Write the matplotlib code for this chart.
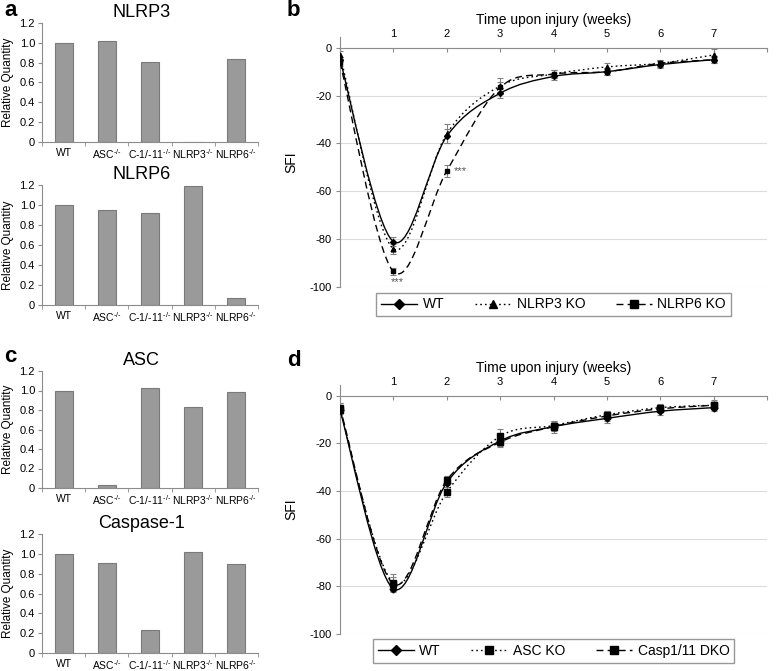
import matplotlib
matplotlib.use('Agg')
import matplotlib.pyplot as plt
from matplotlib.path import Path
from matplotlib.patches import PathPatch
from matplotlib.lines import Line2D
import numpy as np

plt.rcParams['font.family'] = ['Liberation Sans', 'DejaVu Sans']
plt.rcParams['mathtext.fontset'] = 'custom'
plt.rcParams['mathtext.rm'] = 'Liberation Sans'
plt.rcParams['mathtext.it'] = 'Liberation Sans'

# ---------------- data ----------------
genotypes = ['WT', 'ASC$^{\\text{-/-}}$', 'C-1/-11$^{\\text{-/-}}$', 'NLRP3$^{\\text{-/-}}$', 'NLRP6$^{\\text{-/-}}$']
nlrp3_q = [1.00, 1.02, 0.81, 0.0, 0.84]
nlrp6_q = [1.00, 0.95, 0.92, 1.19, 0.07]
asc_q = [1.00, 0.03, 1.03, 0.83, 0.98]
casp1_q = [1.00, 0.91, 0.23, 1.02, 0.90]
bar_yticks = [0, 0.2, 0.4, 0.6, 0.8, 1.0, 1.2]
bar_yticklabels = ['0', '0.2', '0.4', '0.6', '0.8', '1.0', '1.2']

weeks = [0, 1, 2, 3, 4, 5, 6, 7]
week_ticks = [0, 1, 2, 3, 4, 5, 6, 7, 8]
week_labels = ['', '1', '2', '3', '4', '5', '6', '7', '']
sfi_ticks = [0, -20, -40, -60, -80, -100]

b_wt = [-5, -81, -37, -19, -12, -10, -7, -5]
b_wt_err = [1.0, 2.0, 3.0, 2.0, 1.5, 1.5, 1.5, 1.5]
b_nlrp3 = [-3, -84, -36, -16, -11, -8, -6.5, -3]
b_nlrp3_err = [1.5, 2.0, 4.0, 3.5, 1.5, 1.5, 1.5, 2.5]
b_nlrp6 = [-6, -93.5, -51.5, -16.5, -11, -10, -6.5, -5]
b_nlrp6_err = [1.5, 1.5, 2.5, 2.0, 1.5, 1.5, 1.5, 1.5]

d_wt = [-6, -81, -36.5, -19, -13, -9.5, -6.5, -5]
d_wt_err = [1.5, 1.5, 2.5, 2.0, 2.5, 2.0, 1.5, 1.5]
d_asc = [-6, -78.5, -40.5, -17, -12.5, -8, -5, -4]
d_asc_err = [3.0, 3.5, 2.0, 3.0, 2.0, 1.5, 1.5, 2.0]
d_casp = [-5, -79, -35.5, -19.5, -13, -8.5, -5.5, -4]
d_casp_err = [2.0, 3.0, 2.0, 2.0, 2.0, 2.0, 1.5, 1.5]

BAR_COLOR = '#9a9a9a'
BAR_EDGE = '#7a7a7a'
AX_COLOR = '#8c8c8c'

W, H = 778, 671
fig = plt.figure(figsize=(W / 100, H / 100), dpi=100)


def px_axes(left, top, right, bottom):
    return fig.add_axes([left / W, 1 - bottom / H, (right - left) / W, (bottom - top) / H])


def bar_panel(rect, values, title):
    ax = px_axes(*rect)
    x = np.arange(len(genotypes))
    ax.bar(x, values, width=0.42, color=BAR_COLOR, edgecolor=BAR_EDGE, linewidth=0.8)
    ax.set_xlim(-0.5, len(genotypes) - 0.5)
    ax.set_ylim(0, 1.2)
    ax.set_yticks(bar_yticks)
    ax.set_yticklabels(bar_yticklabels, fontsize=8)
    ax.set_xticks(x)
    ax.set_xticklabels(genotypes, fontsize=7.5)
    ax.set_xticks(np.arange(len(genotypes) + 1) - 0.5, minor=True)
    ax.tick_params(axis='x', which='major', length=0, pad=4)
    ax.tick_params(axis='x', which='minor', length=3, color=AX_COLOR, direction='out')
    ax.tick_params(axis='y', length=3, color=AX_COLOR, pad=2)
    for s in ['top', 'right']:
        ax.spines[s].set_visible(False)
    for s in ['left', 'bottom']:
        ax.spines[s].set_color(AX_COLOR)
        ax.spines[s].set_linewidth(0.8)
    ax.set_ylabel('Relative Quantity', fontsize=8.5, labelpad=4)
    ax.set_title(title, fontsize=13, pad=4, x=0.46)
    return ax


bar_panel((42, 23, 258, 142), nlrp3_q, 'NLRP3')
bar_panel((42, 185, 258, 305), nlrp6_q, 'NLRP6')
bar_panel((42, 371, 258, 488), asc_q, 'ASC')
bar_panel((42, 534, 258, 653), casp1_q, 'Caspase-1')


def smooth_path(x, y):
    pts = np.column_stack([x, y]).astype(float)
    n = len(pts)
    verts = [pts[0]]
    codes = [Path.MOVETO]
    for i in range(n - 1):
        p0 = pts[max(i - 1, 0)]
        p1 = pts[i]
        p2 = pts[i + 1]
        p3 = pts[min(i + 2, n - 1)]
        c1 = p1 + (p2 - p0) / 6.0
        c2 = p2 - (p3 - p1) / 6.0
        verts += [c1, c2, p2]
        codes += [Path.CURVE4] * 3
    return Path(verts, codes)


def line_panel(rect, series):
    ax = px_axes(*rect)
    ax.set_xlim(0, 8)
    ax.set_ylim(-100, 4.5)
    ax.set_yticks(sfi_ticks)
    ax.set_yticklabels([str(t) for t in sfi_ticks], fontsize=8)
    ax.yaxis.grid(True, color='#dcdcdc', linewidth=0.8)
    ax.set_axisbelow(True)
    ax.xaxis.tick_top()
    ax.xaxis.set_label_position('top')
    ax.spines['top'].set_position(('data', 0))
    ax.spines['bottom'].set_visible(False)
    ax.spines['right'].set_visible(False)
    for s in ['top', 'left']:
        ax.spines[s].set_color(AX_COLOR)
        ax.spines[s].set_linewidth(0.8)
    ax.set_xticks(week_ticks)
    ax.set_xticklabels(week_labels, fontsize=8)
    ax.tick_params(axis='x', direction='in', length=3, color=AX_COLOR, pad=6)
    ax.tick_params(axis='y', direction='out', length=3, color=AX_COLOR, pad=3)
    ax.set_xlabel('Time upon injury (weeks)', fontsize=10, labelpad=4)
    ax.set_ylabel('SFI', fontsize=10, labelpad=8)
    handles = []
    for (vals, errs, ls, marker, ms, label) in series:
        ax.errorbar(weeks, vals, yerr=errs, fmt='none', ecolor='#808080',
                    elinewidth=0.8, capsize=2, capthick=0.8, zorder=2)
        patch = PathPatch(smooth_path(weeks, vals), fill=False, edgecolor='black',
                          linewidth=1.0, linestyle=ls, zorder=3)
        ax.add_patch(patch)
        ax.plot(weeks, vals, ls='none', marker=marker, ms=ms, color='black',
                zorder=4)
        handles.append(Line2D([], [], color='black', linestyle=ls, linewidth=1.0,
                              marker=marker, markersize=5.5, label=label))
    leg = ax.legend(handles=handles, loc='upper center', bbox_to_anchor=(0.5, -0.022),
                    ncol=3, fontsize=10, frameon=True, fancybox=False,
                    edgecolor='#7f7f7f', borderaxespad=0, handlelength=2.6,
                    columnspacing=2.2, handletextpad=0.4, borderpad=0.35)
    leg.get_frame().set_linewidth(1.0)
    return ax


DOT = (0, (1.2, 2.2))
DASH = (0, (5, 3))

ax_b = line_panel((340, 37, 767, 287), [
    (b_wt, b_wt_err, '-', 'D', 3, 'WT'),
    (b_nlrp3, b_nlrp3_err, DOT, '^', 3.5, 'NLRP3 KO'),
    (b_nlrp6, b_nlrp6_err, DASH, 's', 3.5, 'NLRP6 KO'),
])
ax_b.annotate('***', (weeks[2], b_nlrp6[2]), xytext=(5, 0), textcoords='offset points',
              fontsize=8, color='#555555', va='center', ha='left')
ax_b.annotate('***', (weeks[1], b_nlrp6[1]), xytext=(3, -8), textcoords='offset points',
              fontsize=8, color='#555555', va='center', ha='center')

line_panel((340, 385, 767, 634), [
    (d_wt, d_wt_err, '-', 'D', 3.5, 'WT'),
    (d_asc, d_asc_err, DOT, 's', 4.5, 'ASC KO'),
    (d_casp, d_casp_err, DASH, 's', 4.5, 'Casp1/11 DKO'),
])

for letter, (x, y) in {'a': (4, 10), 'b': (287, 11), 'c': (4, 356), 'd': (287, 360)}.items():
    fig.text(x / W, 1 - y / H, letter, fontsize=16, fontweight='bold', va='center', ha='left')

fig.savefig('out.png', dpi=100)
